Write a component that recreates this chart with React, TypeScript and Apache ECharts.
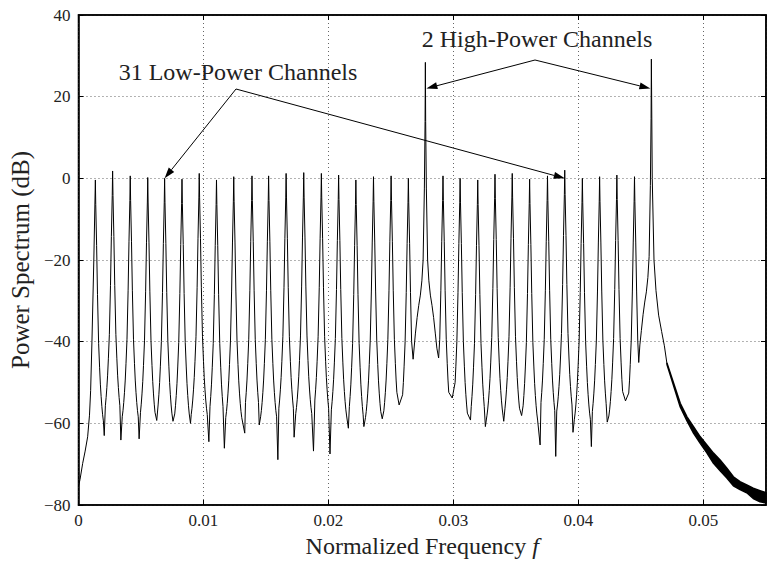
import React, { useEffect, useRef } from "react";
import * as echarts from "echarts";

// ---- Data ----
const X_TICKS = [0, 0.01, 0.02, 0.03, 0.04, 0.05];

// 33 channel centre frequencies and peak levels (dB)
const CHANNEL_F = [
  0.00135, 0.00273, 0.00414, 0.00554, 0.00689, 0.00828, 0.00966, 0.01104, 0.01242, 0.01388,
  0.01521, 0.01661, 0.01802, 0.01943, 0.02081, 0.02219, 0.0236, 0.02501, 0.02639, 0.02775,
  0.02916, 0.03053, 0.03194, 0.03332, 0.0347, 0.03609, 0.03752, 0.0389, 0.04031, 0.04169,
  0.04307, 0.04448, 0.04583,
];
const CHANNEL_DB = [
  -0.4, 1.8, 0.6, 0.2, 0, -0.2, 1.2, -0.4, 0.4, 0.6, 0.6, 1.2, 1.4, 1.2, 0.8, -0.4, 0.4, 0.6, 0,
  28.4, 0.6, 0, -0.4, 1.0, 1.2, -0.2, 0.6, 2.0, 0, 0.4, 0.8, 0.4, 29.2,
];
// troughs between consecutive channels
const TROUGH_F = [
  0.00206, 0.00339, 0.00485, 0.00626, 0.00756, 0.00896, 0.01043, 0.01167, 0.0133, 0.01446,
  0.01595, 0.01725, 0.0188, 0.02012, 0.02159, 0.02283, 0.0243, 0.02565, 0.02677, 0.02881,
  0.0299, 0.03136, 0.03255, 0.03402, 0.03545, 0.03693, 0.03818, 0.03956, 0.04103, 0.0423,
  0.04376, 0.04482,
];
const TROUGH_DB = [
  -63.0, -64.1, -63.8, -59.3, -59.5, -60.0, -64.5, -66.1, -62.4, -60.4, -68.9, -63.4, -66.8,
  -67.5, -61.2, -60.8, -58.9, -55.5, -44.3, -44.0, -53.8, -59.2, -60.8, -59.5, -58.1, -65.3,
  -68.1, -62.2, -65.7, -59.7, -54.5, -45.1,
];
// measured lobe skirts (frequency offset from the peak, level below the peak)
const LOW_LOBE_OFFSET = [0.00003, 0.0001, 0.00017, 0.00026, 0.00034, 0.0004, 0.00046, 0.00052, 0.00058, 0.00064];
const LOW_LOBE_DROP = [-6, -16, -28, -40, -46, -50, -53, -55.5, -57.5, -59];
const HIGH_LOBE_OFFSET = [0.000024, 0.00008, 0.00018, 0.00028, 0.0004, 0.00053, 0.00066, 0.0008, 0.00092];
const HIGH_LOBE_DROP = [-14.5, -31, -48.4, -53.5, -57, -59.5, -62.5, -66.5, -70];
// rising edge from f = 0
const HEAD_F = [0, 0.00012, 0.000335, 0.000533, 0.000733, 0.00088, 0.000972, 0.001076, 0.001227];
const HEAD_DB = [-75.4, -73.8, -69.8, -66.8, -63.3, -58, -52, -40, -20];
// right flank of the last high-power channel
const RIGHT_F = [0.0459, 0.04604, 0.0462, 0.04641, 0.04665, 0.04687];
const RIGHT_DB = [0, -20, -27.5, -33.5, -37.5, -41];
// out-of-band tail (upper / lower envelope of the dense ripple)
const TAIL_F = [
  0.04708, 0.04761, 0.04814, 0.04868, 0.0492, 0.04974, 0.05027, 0.0508, 0.05133, 0.05187,
  0.05239, 0.05292, 0.05346, 0.05398, 0.05452, 0.055,
];
const TAIL_UPPER = [
  -45.3, -50.2, -55.1, -58.4, -60.8, -63.3, -65.3, -67.3, -69.0, -71.0, -73.1, -74.3, -75.1,
  -75.9, -76.5, -77.0,
];
const TAIL_LOWER = [
  -45.6, -50.8, -56.0, -59.4, -62.4, -64.9, -67.2, -69.8, -71.6, -73.4, -75.3, -76.2, -77.0,
  -78.4, -79.2, -79.5,
];
// annotations
const LOW_LABEL = "31 Low-Power Channels";
const HIGH_LABEL = "2 High-Power Channels";
const LOW_TARGETS = [4, 27];
const HIGH_TARGETS = [19, 32];
const HIGH_ARROW_DB = 22;

const FONT = "Liberation Serif, serif";

function buildCurve(): number[][] {
  const pts: number[][] = [];
  HEAD_F.forEach((f, i) => pts.push([f, HEAD_DB[i]]));
  const n = CHANNEL_F.length;
  for (let i = 0; i < n; i++) {
    const f = CHANNEL_F[i];
    const h = CHANNEL_DB[i];
    const high = h > 10;
    const offs = high ? HIGH_LOBE_OFFSET : LOW_LOBE_OFFSET;
    const drops = high ? HIGH_LOBE_DROP : LOW_LOBE_DROP;
    if (i > 0) {
      const tf = TROUGH_F[i - 1];
      const tdb = TROUGH_DB[i - 1];
      const D = f - tf;
      for (let k = offs.length - 1; k >= 0; k--) {
        if (offs[k] < D * 0.92 && h + drops[k] > tdb + 1) pts.push([f - offs[k], h + drops[k]]);
      }
    }
    pts.push([f, h]);
    if (i < n - 1) {
      const tf = TROUGH_F[i];
      const tdb = TROUGH_DB[i];
      const D = tf - f;
      for (let k = 0; k < offs.length; k++) {
        if (offs[k] < D * 0.92 && h + drops[k] > tdb + 1) pts.push([f + offs[k], h + drops[k]]);
      }
      pts.push([tf, tdb]);
    } else {
      RIGHT_F.forEach((rf, k) => pts.push([rf, RIGHT_DB[k]]));
      pts.push([TAIL_F[0], (TAIL_UPPER[0] + TAIL_LOWER[0]) / 2]);
    }
  }
  return pts;
}

export default function App() {
  const ref = useRef<HTMLDivElement>(null);
  useEffect(() => {
    document.body.style.margin = "0";
    const chart = echarts.init(ref.current!, null, { renderer: "svg" });
    const gridLine = { show: true, lineStyle: { color: "#666", width: 1, type: [1, 3] as any } };
    const labelStyle = { fontFamily: FONT, fontSize: 17, color: "#222" };
    const fmtY = (v: number) => (v < 0 ? "\u2212" + Math.abs(v) : String(v));
    const fmtX = (v: number) => {
      if (v > 0.0505) return "";
      const t = X_TICKS.find((x) => Math.abs(x - v) < 1e-9);
      return t === undefined ? "" : t === 0 ? "0" : t.toFixed(2);
    };
    const sideAxis = {
      axisLine: { show: true, onZero: false, lineStyle: { color: "#000", width: 1.5 } },
      axisTick: { show: true, inside: true, length: 5, lineStyle: { color: "#000" } },
      axisLabel: { show: false },
      splitLine: { show: false },
    };
    chart.setOption({
      animation: false,
      backgroundColor: "#fff",
      grid: {
        left: 75,
        top: 15,
        right: 3,
        bottom: 58,
        show: true,
        borderColor: "#000",
        borderWidth: 1.5,
        backgroundColor: "#fff",
      },
      xAxis: [
        {
          type: "value",
          min: 0,
          max: 0.055,
          interval: 0.01,
          name: "Normalized Frequency {i|f}",
          nameLocation: "middle",
          nameGap: 24,
          nameTextStyle: {
            fontFamily: FONT,
            fontSize: 24,
            color: "#222",
            rich: { i: { fontFamily: FONT, fontSize: 24, fontStyle: "italic", color: "#222" } },
          },
          axisLine: { show: true, onZero: false, lineStyle: { color: "#000", width: 1.5 } },
          axisTick: { show: true, inside: true, length: 5, lineStyle: { color: "#000" } },
          axisLabel: { ...labelStyle, margin: 7, formatter: fmtX, showMaxLabel: false },
          splitLine: gridLine,
        },
        { type: "value", position: "top", min: 0, max: 0.055, interval: 0.01, ...sideAxis },
      ],
      yAxis: [
        {
          type: "value",
          min: -80,
          max: 40,
          interval: 20,
          name: "Power Spectrum (dB)",
          nameLocation: "middle",
          nameRotate: 90,
          nameGap: 40,
          nameTextStyle: { fontFamily: FONT, fontSize: 25, color: "#222" },
          axisLine: { show: true, onZero: false, lineStyle: { color: "#000", width: 1.5 } },
          axisTick: { show: true, inside: true, length: 5, lineStyle: { color: "#000" } },
          axisLabel: { ...labelStyle, margin: 8, formatter: fmtY },
          splitLine: gridLine,
        },
        { type: "value", position: "right", min: -80, max: 40, interval: 20, ...sideAxis },
      ],
      series: [
        {
          type: "line",
          xAxisIndex: 0,
          yAxisIndex: 0,
          data: buildCurve(),
          showSymbol: false,
          symbol: "none",
          silent: true,
          clip: true,
          lineStyle: { color: "#000", width: 1 },
          z: 3,
        },
        {
          type: "custom",
          xAxisIndex: 0,
          yAxisIndex: 0,
          silent: true,
          clip: true,
          data: [[TAIL_F[0], TAIL_UPPER[0]]],
          renderItem: (_p: any, api: any) => {
            const up = TAIL_F.map((f, i) => api.coord([f, TAIL_UPPER[i]]));
            const lo = TAIL_F.map((f, i) => api.coord([f, TAIL_LOWER[i]])).reverse();
            return {
              type: "polygon",
              shape: { points: up.concat(lo) },
              style: { fill: "#000", stroke: "#000", lineWidth: 1.5, lineJoin: "round" },
            };
          },
          z: 3,
        },
      ],
    });

    const toPx = (f: number, db: number) =>
      chart.convertToPixel({ seriesIndex: 0 }, [f, db]) as number[];

    const arrow = (from: number[], to: number[]) => {
      const dx = to[0] - from[0];
      const dy = to[1] - from[1];
      const len = Math.hypot(dx, dy);
      const ux = dx / len;
      const uy = dy / len;
      const L = 11;
      const w = 3.5;
      const bx = to[0] - ux * L;
      const by = to[1] - uy * L;
      return [
        {
          type: "line",
          shape: { x1: from[0], y1: from[1], x2: bx, y2: by },
          style: { stroke: "#000", lineWidth: 1 },
          z: 10,
        },
        {
          type: "polygon",
          shape: {
            points: [
              [to[0], to[1]],
              [bx - uy * w, by + ux * w],
              [bx + uy * w, by - ux * w],
            ],
          },
          style: { fill: "#000" },
          z: 10,
        },
      ];
    };

    const lowApex = [236, 89];
    const highApex = [535, 60];
    const elems: any[] = [];
    LOW_TARGETS.forEach((idx) => {
      elems.push(...arrow(lowApex, toPx(CHANNEL_F[idx], 0)));
    });
    HIGH_TARGETS.forEach((idx, k) => {
      const p = toPx(CHANNEL_F[idx], HIGH_ARROW_DB);
      p[0] += k === 0 ? 1 : -1;
      elems.push(...arrow(highApex, p));
    });
    const textStyle = {
      font: `24px ${FONT}`,
      fill: "#222",
      align: "center",
      verticalAlign: "middle",
    };
    elems.push({ type: "text", style: { text: LOW_LABEL, x: 238, y: 72, ...textStyle }, z: 10 });
    elems.push({ type: "text", style: { text: HIGH_LABEL, x: 537, y: 39, ...textStyle }, z: 10 });
    chart.setOption({ graphic: elems });

    return () => chart.dispose();
  }, []);
  return <div ref={ref} style={{ width: 769, height: 563 }} />;
}
